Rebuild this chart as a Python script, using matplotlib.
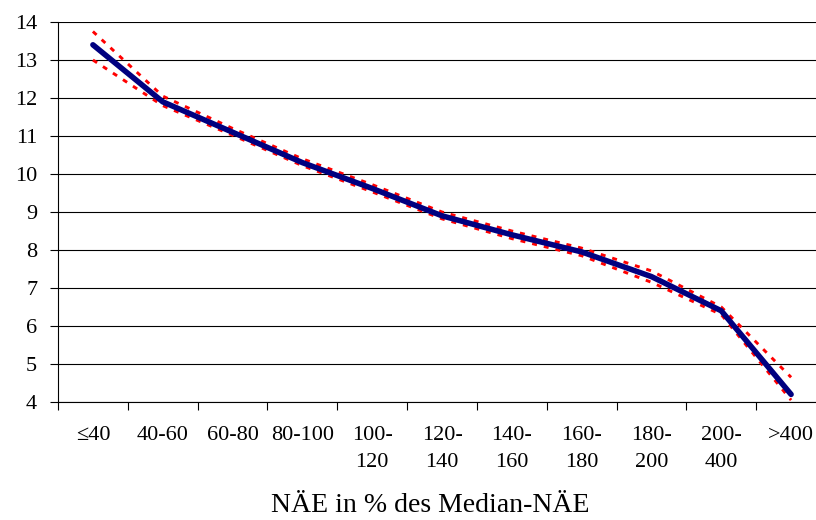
import matplotlib
matplotlib.use("Agg")
import matplotlib.pyplot as plt
import numpy as np

plt.rcParams['font.family'] = ['Liberation Serif', 'DejaVu Serif']

categories = ["≤40", "40-60", "60-80", "80-100", "100-\n120", "120-\n140",
              "140-\n160", "160-\n180", "180-\n200", "200-\n400", ">400"]
mean_vals = [13.4, 11.9, 11.1, 10.3, 9.62, 8.9, 8.4, 7.95, 7.3, 6.4, 4.2]
upper_vals = [13.75, 12.05, 11.2, 10.4, 9.72, 9.0, 8.5, 8.05, 7.45, 6.5, 4.65]
lower_vals = [13.0, 11.8, 11.02, 10.22, 9.53, 8.82, 8.3, 7.85, 7.15, 6.3, 4.05]
y_ticks = list(range(4, 15))
x_label = "NÄE in % des Median-NÄE"

fig = plt.figure(figsize=(8.16, 5.2), dpi=100)
ax = fig.add_axes([58/816, 118/520, 768/816, 380/520])

x = np.arange(len(categories)) + 0.5
dots = (0, (1.7, 2.4))
ax.plot(x, upper_vals, color='red', lw=2.1, linestyle=dots, zorder=3)
ax.plot(x, lower_vals, color='red', lw=2.1, linestyle=dots, zorder=3)
ax.plot(x, mean_vals, color='#000080', lw=4, solid_capstyle='round',
        solid_joinstyle='round', zorder=4)

ax.set_xlim(0, len(categories))
ax.set_ylim(4, 14)
ax.set_yticks(y_ticks)
ax.yaxis.grid(True, color='black', lw=0.8)
ax.set_axisbelow(True)

# category boundaries get tick marks, labels sit in the middle
ax.set_xticks(np.arange(len(categories) + 1))
ax.set_xticklabels([])
ax.set_xticks(x, minor=True)
ax.set_xticklabels(categories, minor=True, fontsize=16, va='top')
for lab in ax.get_xticklabels(minor=True):
    lab.set_linespacing(1.6)
ax.tick_params(axis='x', which='major', length=6, width=0.8, direction='out')
ax.tick_params(axis='x', which='minor', length=0, pad=17)
ax.tick_params(axis='y', length=6, width=0.8, direction='out', labelsize=16, pad=9)

for s in ['top', 'right']:
    ax.spines[s].set_visible(False)
ax.spines['left'].set_linewidth(0.8)
ax.spines['bottom'].set_linewidth(0.8)

fig.text(430/816, 1 - 505/520, x_label, ha='center', va='center', fontsize=20)

fig.savefig("out.png", dpi=100)
